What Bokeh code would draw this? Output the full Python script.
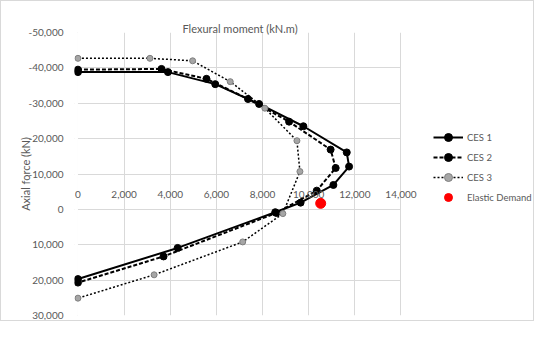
from bokeh.plotting import figure
from bokeh.models import Range1d, NumeralTickFormatter, SingleIntervalTicker, Legend, LegendItem, BoxAnnotation
from bokeh.embed import file_html
from bokeh.resources import INLINE

# Flexural moment (kN.m) vs axial force (kN)
ces1_m = [0, 3900, 5950, 7850, 9770, 11650, 11750, 11070, 9650, 8550, 4320, 0]
ces1_n = [-38800, -38800, -35400, -29800, -23500, -16100, -12100, -6900, -1900, 800, 10900, 19700]

ces2_m = [0, 3620, 5570, 7370, 9150, 10950, 11170, 10350, 8600, 3710, 0]
ces2_n = [-39500, -39700, -36900, -31200, -24800, -16900, -11700, -5300, 1000, 13300, 20700]

ces3_m = [0, 3120, 4970, 6600, 8100, 9490, 9620, 8880, 7140, 3300, 0]
ces3_n = [-42700, -42700, -42000, -36100, -28600, -19400, -10700, 1200, 9200, 18500, 25100]

demand_m = [10520]
demand_n = [-1700]

x_min, x_max = 0, 14000
y_min, y_max = -50000, 30000

FONT = "Lato"
TXT = "#595959"
GRID = "#d9d9d9"

# frame extends to the right edge so the legend can sit inside it unclipped
p = figure(width=534, height=321, output_backend="svg", toolbar_location=None,
           x_range=Range1d(x_min - 150, x_max + 5830), y_range=Range1d(y_max, y_min),
           x_axis_location="above",
           min_border_left=73, min_border_right=0, min_border_top=31, min_border_bottom=7,
           title="Flexural moment (kN.m)")
p.styles = {"border": "1px solid #d9d9d9"}
p.outline_line_color = None
p.title.align = "left"
p.title.offset = 108
p.title.standoff = -4
p.title.text_font = FONT
p.title.text_font_size = "11px"
p.title.text_font_style = "normal"
p.title.text_color = TXT

p.xaxis.fixed_location = 0
p.xaxis.bounds = (x_min, x_max)
p.xaxis.ticker = SingleIntervalTicker(interval=2000)
p.yaxis.ticker = SingleIntervalTicker(interval=10000)
p.xaxis.formatter = NumeralTickFormatter(format="0,0")
p.yaxis.formatter = NumeralTickFormatter(format="0,0")
p.yaxis.axis_label = "Axial force (kN)"
p.yaxis.axis_label_standoff = -6
p.yaxis.major_label_standoff = 5
for ax in (p.xaxis, p.yaxis):
    ax.axis_line_color = None
    ax.major_tick_line_color = None
    ax.minor_tick_line_color = None
    ax.major_label_text_font = FONT
    ax.major_label_text_font_size = "10px"
    ax.major_label_text_color = TXT
p.yaxis.axis_label_text_font = FONT
p.yaxis.axis_label_text_font_size = "11px"
p.yaxis.axis_label_text_font_style = "normal"
p.yaxis.axis_label_text_color = TXT
p.xgrid.grid_line_color = GRID
p.ygrid.grid_line_color = GRID
p.xgrid.ticker = SingleIntervalTicker(interval=2000)
p.xgrid.bounds = (x_min, x_max)
p.ygrid.ticker = SingleIntervalTicker(interval=10000)

# hide gridline overhang outside the 0..14000 plot area
p.add_layout(BoxAnnotation(left=x_max, fill_color="white", fill_alpha=1, line_color=None, level="underlay"))
p.add_layout(BoxAnnotation(right=x_min, fill_color="white", fill_alpha=1, line_color=None, level="underlay"))

l1 = p.line(ces1_m, ces1_n, line_color="black", line_width=2)
c1 = p.scatter(ces1_m, ces1_n, size=7, fill_color="black", line_color="black")
l2 = p.line(ces2_m, ces2_n, line_color="black", line_width=2, line_dash="4 2")
c2 = p.scatter(ces2_m, ces2_n, size=7, fill_color="black", line_color="black")
l3 = p.line(ces3_m, ces3_n, line_color="black", line_width=1.5, line_dash="2 2")
c3 = p.scatter(ces3_m, ces3_n, size=6, fill_color="#a6a6a6", line_color="#7f7f7f")
d = p.scatter(demand_m, demand_n, size=10, fill_color="#ff0000", line_color="#ff0000")

legend = Legend(items=[
    LegendItem(label="CES 1", renderers=[l1, c1]),
    LegendItem(label="CES 2", renderers=[l2, c2]),
    LegendItem(label="CES 3", renderers=[l3, c3]),
    LegendItem(label="Elastic Demand", renderers=[d]),
], location=(359, 108))
legend.border_line_color = None
legend.background_fill_alpha = 0
legend.padding = 0
legend.margin = 0
legend.spacing = 0
legend.glyph_width = 30
legend.glyph_height = 20
legend.label_height = 20
legend.label_standoff = 4
legend.label_text_font = FONT
legend.label_text_font_size = "9.5px"
legend.label_text_color = TXT
p.add_layout(legend, "center")

open("out.html", "w").write(file_html(p, INLINE))
